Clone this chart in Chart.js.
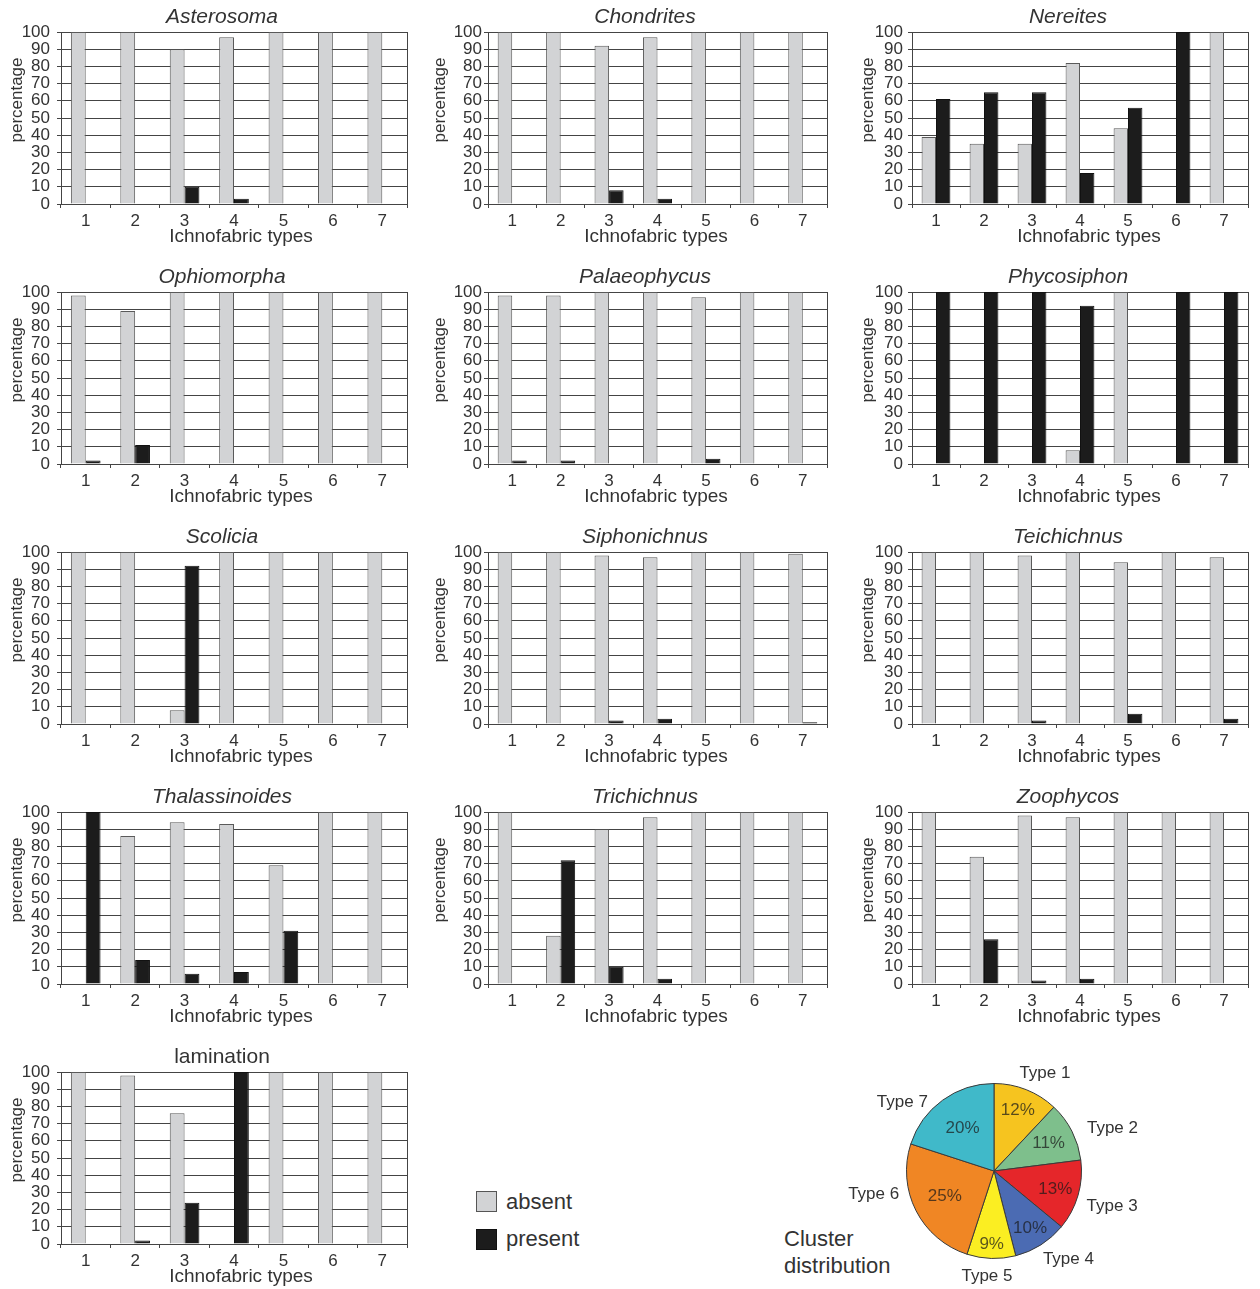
<!DOCTYPE html>
<html>
<head>
<meta charset="utf-8">
<script src="https://cdn.jsdelivr.net/npm/chart.js@4.4.1/dist/chart.umd.min.js"></script>
<style>
  html, body { margin: 0; padding: 0; background: #fff; width: 1260px; height: 1289px; overflow: hidden; }
  body { position: relative; font-family: "Liberation Sans", Arial, sans-serif; color: #333; }
  canvas { position: absolute; }
  .legend-box { position: absolute; left: 476px; width: 21px; height: 21px; box-sizing: border-box; }
  .legend-text { position: absolute; left: 506px; font-size: 22px; line-height: 22px; color: #333; }
  #cluster { position: absolute; left: 784px; top: 1225px; font-size: 22px; line-height: 27px; color: #333; }
</style>
</head>
<body>
<div class="legend-box" style="top:1191px;background:#d2d3d5;border:1px solid #555;"></div>
<div class="legend-text" style="top:1191px;">absent</div>
<div class="legend-box" style="top:1229px;background:#1c1c1c;border:1px solid #111;"></div>
<div class="legend-text" style="top:1228px;">present</div>
<div id="cluster">Cluster<br>distribution</div>

<script>
// Ichnofabric categories on the x axis and the percentage ticks on the y axis
const ichnofabricTypes = ['1', '2', '3', '4', '5', '6', '7'];
const percentTicks = [0, 10, 20, 30, 40, 50, 60, 70, 80, 90, 100];

// Share of samples (%) in which each trace is absent / present, per ichnofabric type
const asterosomaAbsent      = [100, 100, 90, 97, 100, 100, 100];
const asterosomaPresent     = [0, 0, 10, 3, 0, 0, 0];
const chondritesAbsent      = [100, 100, 92, 97, 100, 100, 100];
const chondritesPresent     = [0, 0, 8, 3, 0, 0, 0];
const nereitesAbsent        = [39, 35, 35, 82, 44, 0, 100];
const nereitesPresent       = [61, 65, 65, 18, 56, 100, 0];
const ophiomorphaAbsent     = [98, 89, 100, 100, 100, 100, 100];
const ophiomorphaPresent    = [2, 11, 0, 0, 0, 0, 0];
const palaeophycusAbsent    = [98, 98, 100, 100, 97, 100, 100];
const palaeophycusPresent   = [2, 2, 0, 0, 3, 0, 0];
const phycosiphonAbsent     = [0, 0, 0, 8, 100, 0, 0];
const phycosiphonPresent    = [100, 100, 100, 92, 0, 100, 100];
const scoliciaAbsent        = [100, 100, 8, 100, 100, 100, 100];
const scoliciaPresent       = [0, 0, 92, 0, 0, 0, 0];
const siphonichnusAbsent    = [100, 100, 98, 97, 100, 100, 99];
const siphonichnusPresent   = [0, 0, 2, 3, 0, 0, 1];
const teichichnusAbsent     = [100, 100, 98, 100, 94, 100, 97];
const teichichnusPresent    = [0, 0, 2, 0, 6, 0, 3];
const thalassinoidesAbsent  = [0, 86, 94, 93, 69, 100, 100];
const thalassinoidesPresent = [100, 14, 6, 7, 31, 0, 0];
const trichichnusAbsent     = [100, 28, 90, 97, 100, 100, 100];
const trichichnusPresent    = [0, 72, 10, 3, 0, 0, 0];
const zoophycosAbsent       = [100, 74, 98, 97, 100, 100, 100];
const zoophycosPresent      = [0, 26, 2, 3, 0, 0, 0];
const laminationAbsent      = [100, 98, 76, 0, 100, 100, 100];
const laminationPresent     = [0, 2, 24, 100, 0, 0, 0];

// Cluster distribution of the seven ichnofabric types (%)
const clusterTypes  = ['Type 1', 'Type 2', 'Type 3', 'Type 4', 'Type 5', 'Type 6', 'Type 7'];
const clusterShares = [12, 11, 13, 10, 9, 25, 20];
const clusterColors = ['#f6c41f', '#7ebf8c', '#e5262a', '#4b6bb3', '#fbee22', '#f08624', '#40b9c9'];

const panels = [
  { title: 'Asterosoma',     italic: true,  absent: asterosomaAbsent,     present: asterosomaPresent },
  { title: 'Chondrites',     italic: true,  absent: chondritesAbsent,     present: chondritesPresent },
  { title: 'Nereites',       italic: true,  absent: nereitesAbsent,       present: nereitesPresent },
  { title: 'Ophiomorpha',    italic: true,  absent: ophiomorphaAbsent,    present: ophiomorphaPresent },
  { title: 'Palaeophycus',   italic: true,  absent: palaeophycusAbsent,   present: palaeophycusPresent },
  { title: 'Phycosiphon',    italic: true,  absent: phycosiphonAbsent,    present: phycosiphonPresent },
  { title: 'Scolicia',       italic: true,  absent: scoliciaAbsent,       present: scoliciaPresent },
  { title: 'Siphonichnus',   italic: true,  absent: siphonichnusAbsent,   present: siphonichnusPresent },
  { title: 'Teichichnus',    italic: true,  absent: teichichnusAbsent,    present: teichichnusPresent },
  { title: 'Thalassinoides', italic: true,  absent: thalassinoidesAbsent, present: thalassinoidesPresent },
  { title: 'Trichichnus',    italic: true,  absent: trichichnusAbsent,    present: trichichnusPresent },
  { title: 'Zoophycos',      italic: true,  absent: zoophycosAbsent,      present: zoophycosPresent },
  { title: 'lamination',     italic: false, absent: laminationAbsent,     present: laminationPresent }
];

const FONT = '"Liberation Sans", Arial, sans-serif';
const TEXT = '#333';
const LINE = '#444';
const CELL_W = 420, CELL_H = 260;
const PLOT_TOP = 32, PLOT_BOTTOM = 204, X_AXIS_H = 34;

// Per-column frame geometry (local canvas pixels)
const columns = [
  { left: 61, right: 407, tickPad: 7, titleX: 222, yTitleX: 17, xTitleX: 241 },
  { left: 68, right: 407, tickPad: 2, titleX: 225, yTitleX: 20, xTitleX: 236 },
  { left: 72, right: 408, tickPad: 5, titleX: 228, yTitleX: 28, xTitleX: 249 }
];

// Panel titles, axis titles and the right-hand frame line
const panelText = {
  id: 'panelText',
  afterDraw(chart, args, opts) {
    const ctx = chart.ctx;
    const area = chart.chartArea;
    ctx.save();
    ctx.strokeStyle = LINE;
    ctx.lineWidth = 1;
    const rx = Math.round(area.right) + 0.5;
    ctx.beginPath();
    ctx.moveTo(rx, Math.round(area.top));
    ctx.lineTo(rx, Math.round(area.bottom) + 1);
    ctx.stroke();

    ctx.fillStyle = TEXT;
    ctx.textAlign = 'center';
    ctx.textBaseline = 'middle';
    ctx.font = (opts.italic ? 'italic ' : '') + '21px ' + FONT;
    ctx.fillText(opts.title, opts.titleX, 17);

    ctx.font = '19px ' + FONT;
    ctx.fillText('Ichnofabric types', opts.xTitleX, 237);

    ctx.translate(opts.yTitleX, 100);
    ctx.rotate(-Math.PI / 2);
    ctx.font = '17px ' + FONT;
    ctx.fillText('percentage', 0, 0);
    ctx.restore();
  }
};

panels.forEach((p, i) => {
  const col = i % 3, row = Math.floor(i / 3);
  const geo = columns[col];
  const canvas = document.createElement('canvas');
  canvas.width = CELL_W;
  canvas.height = CELL_H;
  canvas.style.left = (col * CELL_W) + 'px';
  canvas.style.top = (row * CELL_H) + 'px';
  document.body.appendChild(canvas);

  new Chart(canvas, {
    type: 'bar',
    data: {
      labels: ichnofabricTypes,
      datasets: [
        { label: 'absent', data: p.absent, backgroundColor: '#d2d3d5', borderColor: '#5a5a5a', borderWidth: 1 },
        { label: 'present', data: p.present, backgroundColor: '#1c1c1c', borderColor: '#111', borderWidth: 1 }
      ]
    },
    options: {
      responsive: false,
      animation: false,
      devicePixelRatio: 1,
      categoryPercentage: 0.6,
      barPercentage: 1.0,
      layout: {
        padding: { left: 0, right: CELL_W - geo.right, top: PLOT_TOP, bottom: CELL_H - PLOT_BOTTOM - X_AXIS_H }
      },
      plugins: {
        legend: { display: false },
        tooltip: { enabled: false },
        panelText: { title: p.title, italic: p.italic, titleX: geo.titleX, yTitleX: geo.yTitleX, xTitleX: geo.xTitleX }
      },
      scales: {
        x: {
          afterFit(scale) { scale.height = X_AXIS_H; },
          grid: { display: true, drawOnChartArea: false, drawTicks: true, tickLength: 4, color: LINE, offset: true },
          border: { display: true, color: LINE, width: 1 },
          ticks: { color: TEXT, font: { family: FONT, size: 17 }, padding: 3, maxRotation: 0 }
        },
        y: {
          min: 0,
          max: 100,
          afterFit(scale) { scale.width = geo.left; },
          afterBuildTicks(scale) { scale.ticks = percentTicks.map(v => ({ value: v })); },
          grid: { color: LINE, lineWidth: 1, tickLength: 4, drawTicks: true },
          border: { display: true, color: LINE, width: 1 },
          ticks: { autoSkip: false, color: TEXT, padding: geo.tickPad, font: { family: FONT, size: 17, lineHeight: 1 } }
        }
      }
    },
    plugins: [panelText]
  });
});

// Pie of the cluster distribution with in-slice percentages and outer type labels
const pieLabels = {
  id: 'pieLabels',
  afterDatasetsDraw(chart, args, opts) {
    const ctx = chart.ctx;
    const arcs = chart.getDatasetMeta(0).data;
    const values = chart.data.datasets[0].data;
    ctx.save();
    ctx.textAlign = 'center';
    ctx.textBaseline = 'middle';
    arcs.forEach((arc, k) => {
      const { x, y, startAngle, endAngle, outerRadius } = arc.getProps(['x', 'y', 'startAngle', 'endAngle', 'outerRadius'], true);
      const mid = (startAngle + endAngle) / 2;
      const f = opts.innerFactor[k];
      ctx.font = '17px ' + FONT;
      ctx.fillStyle = 'rgba(25,25,25,0.72)';
      ctx.fillText(values[k] + '%', x + Math.cos(mid) * outerRadius * f, y + Math.sin(mid) * outerRadius * f);

      const [deg, dist] = opts.outer[k];
      const a = deg * Math.PI / 180;
      ctx.font = '17px ' + FONT;
      ctx.fillStyle = TEXT;
      ctx.fillText(chart.data.labels[k], x + Math.cos(a) * outerRadius * dist, y + Math.sin(a) * outerRadius * dist);
    });
    ctx.restore();
  }
};

const pieCanvas = document.createElement('canvas');
pieCanvas.width = 300;
pieCanvas.height = 236;
pieCanvas.style.left = '844px';
pieCanvas.style.top = '1053px';
document.body.appendChild(pieCanvas);

new Chart(pieCanvas, {
  type: 'pie',
  data: {
    labels: clusterTypes,
    datasets: [{ data: clusterShares, backgroundColor: clusterColors, borderColor: '#3a3a3a', borderWidth: 1 }]
  },
  options: {
    responsive: false,
    animation: false,
    devicePixelRatio: 1,
    layout: { padding: { left: 62, right: 62, top: 30, bottom: 30 } },
    plugins: {
      legend: { display: false },
      tooltip: { enabled: false },
      pieLabels: {
        innerFactor: [0.74, 0.70, 0.73, 0.77, 0.84, 0.63, 0.61],
        outer: [[-62.5, 1.26], [-19.9, 1.44], [16.8, 1.41], [49.9, 1.32], [93.8, 1.21], [169.2, 1.40], [216.9, 1.31]]
      }
    }
  },
  plugins: [pieLabels]
});
</script>
</body>
</html>
